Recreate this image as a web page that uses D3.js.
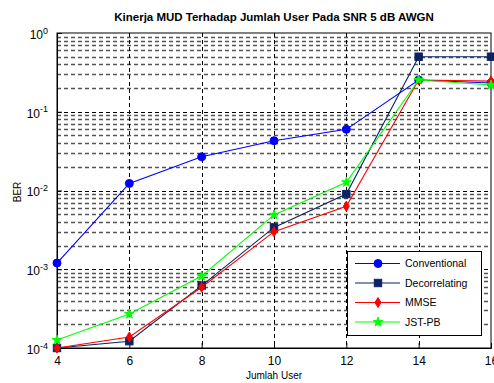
<!DOCTYPE html>
<html>
<head>
<meta charset="utf-8">
<script src="https://cdn.jsdelivr.net/npm/d3@7"></script>
<style>
  body { margin: 0; background: #fff; }
  svg { font-family: "Liberation Sans", Arial, sans-serif; }
</style>
</head>
<body>
<div id="graphBox"></div>
<script>
// data
const users = [4, 6, 8, 10, 12, 14, 16];
const conventional = [1.2e-3, 0.0123, 0.0268, 0.0428, 0.0598, 0.253, 0.232];
const decorrelating = [1.0e-4, 1.22e-4, 6.2e-4, 3.4e-3, 9.0e-3, 0.50, 0.50];
const mmse = [1.0e-4, 1.38e-4, 5.9e-4, 3.0e-3, 6.3e-3, 0.253, 0.245];
const jstpb = [1.26e-4, 2.7e-4, 8.2e-4, 4.9e-3, 0.0127, 0.253, 0.219];
const seriesNames = ["Conventional", "Decorrelating", "MMSE", "JST-PB"];
const xTicks = [4, 6, 8, 10, 12, 14, 16];
const yTicks = [1e-4, 1e-3, 1e-2, 1e-1, 1];

const colors = ["#0000ff", "#0b2364", "#ff0000", "#00ff00"];
const shapes = ["circle", "square", "diamond", "star"];
const allSeries = [conventional, decorrelating, mmse, jstpb];

const W = 494, H = 383;
const margin = { top: 33, right: 3, bottom: 35, left: 57 };
const width = W - margin.left - margin.right;
const height = H - margin.top - margin.bottom;

const svg = d3.select("#graphBox").append("svg")
    .attr("width", W)
    .attr("height", H);

const g = svg.append("g")
    .attr("transform", `translate(${margin.left}, ${margin.top})`);

const x = d3.scaleLinear().domain([4, 16]).range([0, width]);
const y = d3.scaleLog().domain([1e-4, 1]).range([height, 0]);

// white plot background
g.append("rect").attr("width", width).attr("height", height).attr("fill", "#fff");

// minor y grid lines (2..9 in each decade)
let minor = [];
for (let e = -4; e < 0; e++) {
    for (let m = 2; m <= 9; m++) minor.push(m * Math.pow(10, e));
}
g.selectAll(".ygridminor").data(minor).enter().append("line")
    .attr("x1", 0).attr("x2", width)
    .attr("y1", d => Math.round(y(d)) + 0.5).attr("y2", d => Math.round(y(d)) + 0.5)
    .attr("stroke", "#555").attr("stroke-width", 1.3).attr("stroke-dasharray", "4,3");

// major grid lines
g.selectAll(".ygrid").data(yTicks.slice(1, -1)).enter().append("line")
    .attr("x1", 0).attr("x2", width)
    .attr("y1", d => Math.round(y(d)) + 0.5).attr("y2", d => Math.round(y(d)) + 0.5)
    .attr("stroke", "#000").attr("stroke-dasharray", "4,3");
g.selectAll(".xgrid").data(xTicks.slice(1, -1)).enter().append("line")
    .attr("y1", 0).attr("y2", height)
    .attr("x1", d => Math.round(x(d)) + 0.5).attr("x2", d => Math.round(x(d)) + 0.5)
    .attr("stroke", "#000").attr("stroke-dasharray", "4,3");

// axes, ticks pointing inward like matlab
const xAxis = g.append("g")
    .attr("transform", `translate(0, ${height})`)
    .call(d3.axisBottom(x).tickValues(xTicks).tickSize(-5).tickPadding(8));
xAxis.selectAll("text").attr("font-size", 12).attr("fill", "#000");

const yAxis = g.append("g")
    .call(d3.axisLeft(y).tickValues(yTicks).tickSize(-5).tickPadding(9).tickFormat(""));
yAxis.selectAll(".tick text").each(function(d) {
    const t = d3.select(this).attr("font-size", 12).attr("fill", "#000").attr("dy", "0.45em");
    t.append("tspan").text("10");
    t.append("tspan").attr("dy", "-0.6em").attr("font-size", 9).text(Math.round(Math.log10(d)));
});
g.selectAll(".domain").attr("stroke", "#000");

// top and right edges of the box
g.append("rect").attr("width", width).attr("height", height)
    .attr("fill", "none").attr("stroke", "#000");

// marker drawer
function drawMarker(sel, shape, color) {
    if (shape === "circle") {
        sel.append("circle").attr("r", 4).attr("fill", color).attr("stroke", color);
    } else if (shape === "square") {
        sel.append("rect").attr("x", -3.7).attr("y", -3.7).attr("width", 7.4).attr("height", 7.4)
            .attr("fill", color).attr("stroke", color);
    } else if (shape === "diamond") {
        sel.append("path").attr("d", "M0,-5L3,0L0,5L-3,0Z").attr("fill", color).attr("stroke", color);
    } else {
        sel.append("path").attr("d", d3.symbol(d3.symbolStar, 28)()).attr("fill", color).attr("stroke", color);
    }
}

const line = d3.line().x((d, i) => x(users[i])).y(d => y(d));

allSeries.forEach((vals, k) => {
    g.append("path").datum(vals)
        .attr("fill", "none").attr("stroke", colors[k]).attr("stroke-width", 1.1)
        .attr("d", line);
    vals.forEach((v, i) => {
        const m = g.append("g").attr("transform", `translate(${x(users[i])}, ${y(v)})`);
        drawMarker(m, shapes[k], colors[k]);
    });
});

// title and labels
svg.append("text").attr("x", margin.left + width / 2).attr("y", 21)
    .attr("text-anchor", "middle").attr("font-weight", "bold").attr("font-size", 11.5)
    .text("Kinerja MUD Terhadap Jumlah User Pada SNR 5 dB AWGN");
svg.append("text").attr("x", margin.left + width / 2).attr("y", 379)
    .attr("text-anchor", "middle").attr("font-size", 10).text("Jumlah User");
svg.append("text").attr("transform", "translate(21, 192) rotate(-90)")
    .attr("text-anchor", "middle").attr("font-size", 10).text("BER");

// legend
const legend = svg.append("g").attr("transform", "translate(347, 251)");
legend.append("rect").attr("x", 0.5).attr("y", 0.5).attr("width", 134).attr("height", 84)
    .attr("fill", "#fff").attr("stroke", "#000");
seriesNames.forEach((name, k) => {
    const row = legend.append("g").attr("transform", `translate(0, ${12.5 + k * 19.5})`);
    row.append("line").attr("x1", 8).attr("x2", 53).attr("stroke", colors[k]).attr("stroke-width", 1.1);
    drawMarker(row.append("g").attr("transform", "translate(31, 0)"), shapes[k], colors[k]);
    row.append("text").attr("x", 58).attr("dy", "0.35em").attr("font-size", 10.5).text(name);
});
</script>
</body>
</html>
